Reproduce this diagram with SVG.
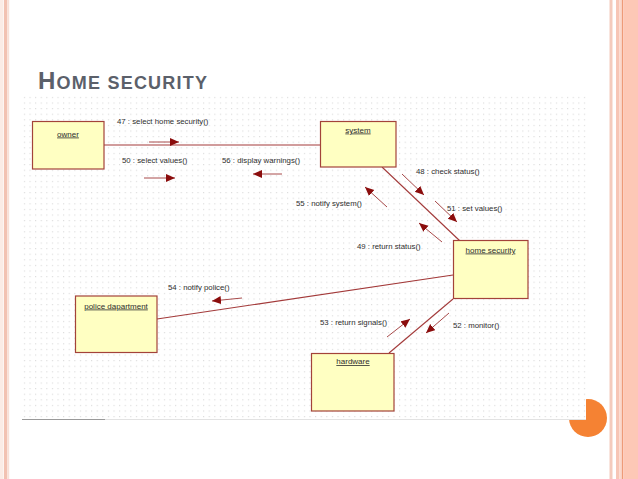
<svg xmlns="http://www.w3.org/2000/svg" width="638" height="479" viewBox="0 0 638 479">
  <defs>
    <pattern id="grid" x="22" y="95" width="5.6" height="5.6" patternUnits="userSpaceOnUse">
      <rect x="2" y="2" width="1" height="1" fill="#d0d0d0"/>
    </pattern>
    <marker id="ah" markerUnits="userSpaceOnUse" markerWidth="10" markerHeight="9" refX="9" refY="4" orient="auto">
      <path d="M0,0 L9,4 L0,8 z" fill="#8b0d0d"/>
    </marker>
    <style>
      .node rect { fill: #ffffc2; stroke: #a3433a; stroke-width: 1.2; }
      .node text { font-family: "Liberation Sans", Arial, sans-serif; font-size: 8px; fill: #2e2e2e; text-anchor: middle; text-decoration: underline; }
      .conn line { stroke: #a33a3a; stroke-width: 1.1; fill: none; }
      .msg line { stroke: #a84a4a; stroke-width: 1; marker-end: url(#ah); }
      .msg text { font-family: "Liberation Sans", Arial, sans-serif; font-size: 7.8px; fill: #2e2e2e; }
    </style>
  </defs>

  <rect x="0" y="0" width="638" height="479" fill="#ffffff"/>

  <!-- left border -->
  <rect x="0" y="0" width="3.5" height="479" fill="#fbece6"/>
  <rect x="4" y="0" width="3.2" height="479" fill="#f2c2b2"/>
  <rect x="7.2" y="0" width="2" height="479" fill="#f8e0d8"/>

  <!-- right border -->
  <rect x="609.5" y="0" width="3" height="479" fill="#f4cbbd"/>
  <rect x="616" y="0" width="3.5" height="479" fill="#f7c6b6"/>
  <rect x="619.5" y="0" width="2.3" height="479" fill="#fbd8cc"/>
  <rect x="621.8" y="0" width="1.4" height="479" fill="#ee9b78"/>
  <rect x="623.2" y="0" width="14.8" height="479" fill="#fdc8b6"/>

  <!-- orange circle -->
  <circle cx="588" cy="418" r="19" fill="#f58233"/>

  <!-- title -->
  <text x="38" y="89" textLength="169" lengthAdjust="spacing" font-family="Liberation Sans, Arial, sans-serif" font-weight="bold" fill="#5b606a"><tspan font-size="24">H</tspan><tspan font-size="18">OME SECURITY</tspan></text>

  <!-- diagram canvas -->
  <rect x="22" y="95" width="564" height="324" fill="#ffffff"/>
  <rect x="22" y="95" width="564" height="324" fill="url(#grid)"/>
  <line x1="22" y1="419.5" x2="586" y2="419.5" stroke="#e2e2e2" stroke-width="1"/>
  <line x1="22" y1="419.5" x2="105" y2="419.5" stroke="#9a9a9a" stroke-width="1"/>

  <!-- connectors -->
  <g id="connectors" class="conn">
    <line x1="104" y1="145" x2="320" y2="145"/>
    <line x1="382" y1="167" x2="460" y2="241"/>
    <line x1="157" y1="319" x2="453" y2="275"/>
    <line x1="453" y1="299" x2="389" y2="353"/>
  </g>

  <!-- messages -->
  <g id="messages" class="msg">
    <text x="117" y="124">47 : select home security()</text>
    <line x1="149" y1="142" x2="179" y2="142"/>
    <text x="122" y="163">50 : select values()</text>
    <line x1="144" y1="178" x2="175" y2="178"/>
    <text x="222" y="163">56 : display warnings()</text>
    <line x1="282" y1="174" x2="253" y2="174"/>
    <text x="416" y="174">48 : check status()</text>
    <line x1="402" y1="174" x2="424" y2="195"/>
    <text x="447" y="210.5">51 : set values()</text>
    <line x1="435" y1="201" x2="457" y2="222"/>
    <text x="296" y="206">55 : notify system()</text>
    <line x1="387" y1="207" x2="365" y2="187"/>
    <text x="357" y="249">49 : return status()</text>
    <line x1="442" y1="242" x2="419" y2="223"/>
    <text x="168" y="289.5">54 : notify police()</text>
    <line x1="242" y1="298" x2="212" y2="301"/>
    <text x="320" y="324.5">53 : return signals()</text>
    <line x1="387" y1="337" x2="410" y2="319"/>
    <text x="453" y="328">52 : monitor()</text>
    <line x1="449" y1="313" x2="426" y2="333"/>
  </g>

  <!-- nodes -->
  <g id="owner" class="node">
    <rect x="32.5" y="121.5" width="71.5" height="47.5"/>
    <text x="68" y="136.5">owner</text>
  </g>
  <g id="system" class="node">
    <rect x="320.5" y="121.5" width="75.5" height="45.5"/>
    <text x="358" y="132.5">system</text>
  </g>
  <g id="home-security" class="node">
    <rect x="453.5" y="240.5" width="74.5" height="58"/>
    <text x="490.5" y="252.5">home security</text>
  </g>
  <g id="police-dapartment" class="node">
    <rect x="75.5" y="296" width="81.5" height="56.5"/>
    <text x="116" y="308.5">police dapartment</text>
  </g>
  <g id="hardware" class="node">
    <rect x="311.5" y="353.5" width="82.5" height="57.5"/>
    <text x="353" y="364">hardware</text>
  </g>
</svg>
